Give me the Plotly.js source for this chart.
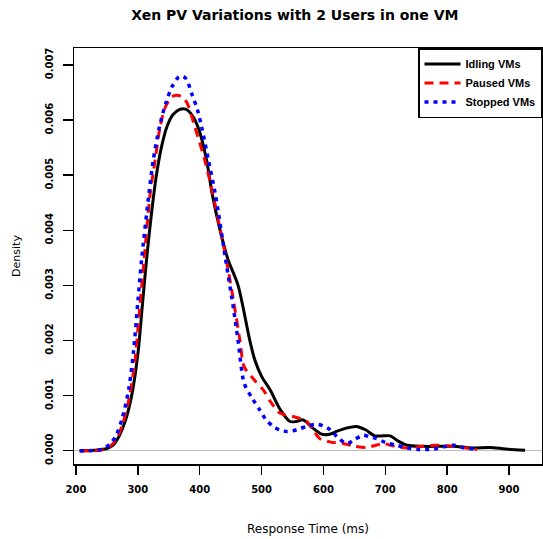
<!DOCTYPE html>
<html>
<head>
<meta charset="utf-8">
<script src="https://cdn.plot.ly/plotly-3.0.1.min.js"></script>
<style>html,body{margin:0;padding:0;background:#fff;}#chart{width:543px;height:539px;}</style>
</head>
<body>
<div id="chart"></div>
<script>
// Response time (ms) and density (x 1e-3)
const idlingX = [206, 230, 250, 260, 270, 280, 290, 300, 307, 314, 322, 330, 338, 347, 357, 367, 377, 387, 398, 411, 420, 433, 446, 462, 481, 489, 500, 514, 530, 546, 556, 567, 582, 597, 610, 621, 637, 653, 668, 683, 697, 708, 720, 735, 760, 790, 810, 840, 869, 895, 926];
const idlingY = [0.00, 0.01, 0.04, 0.10, 0.27, 0.55, 1.00, 1.75, 2.60, 3.46, 4.30, 5.00, 5.50, 5.88, 6.10, 6.19, 6.20, 6.10, 5.85, 5.28, 4.67, 4.00, 3.46, 3.00, 2.00, 1.65, 1.35, 1.10, 0.75, 0.53, 0.53, 0.56, 0.42, 0.30, 0.30, 0.35, 0.41, 0.44, 0.38, 0.27, 0.27, 0.27, 0.18, 0.10, 0.08, 0.08, 0.08, 0.05, 0.06, 0.03, 0.01];

const pausedX = [206, 240, 255, 265, 275, 285, 295, 302, 310, 320, 328, 336, 345, 355, 362, 372, 380, 392, 408, 421, 443, 455, 465, 472, 487, 503, 515, 530, 551, 573, 585, 594, 610, 632, 650, 670, 685, 697, 715, 734, 760, 783, 810, 831, 848];
const pausedY = [0.00, 0.01, 0.08, 0.20, 0.47, 0.90, 1.60, 2.45, 3.46, 4.67, 5.28, 5.88, 6.25, 6.42, 6.45, 6.42, 6.30, 5.88, 5.28, 4.67, 3.46, 2.70, 2.00, 1.52, 1.30, 1.10, 0.88, 0.68, 0.62, 0.53, 0.35, 0.22, 0.16, 0.13, 0.08, 0.06, 0.10, 0.13, 0.08, 0.05, 0.08, 0.10, 0.08, 0.05, 0.02];

const stoppedX = [206, 240, 255, 265, 275, 285, 293, 300, 306, 318, 325, 335, 345, 355, 365, 371, 378, 388, 396, 403, 414, 425, 442, 455, 462, 472, 485, 497, 508, 519, 530, 541, 550, 562, 575, 589, 600, 611, 625, 638, 650, 664, 675, 686, 700, 718, 735, 756, 778, 795, 810, 825, 842, 848];
const stoppedY = [0.00, 0.02, 0.12, 0.28, 0.60, 1.10, 1.80, 2.70, 3.46, 4.67, 5.28, 5.88, 6.30, 6.60, 6.77, 6.80, 6.75, 6.45, 6.20, 5.88, 5.28, 4.67, 3.46, 2.55, 2.00, 1.22, 0.95, 0.74, 0.55, 0.44, 0.37, 0.35, 0.36, 0.40, 0.45, 0.48, 0.45, 0.38, 0.22, 0.13, 0.20, 0.28, 0.25, 0.22, 0.15, 0.10, 0.05, 0.02, 0.03, 0.07, 0.10, 0.06, 0.03, 0.02];

const seriesNames = ['Idling VMs', 'Paused VMs', 'Stopped VMs'];
const xTicks = [200, 300, 400, 500, 600, 700, 800, 900];
const yTicks = [0, 0.001, 0.002, 0.003, 0.004, 0.005, 0.006, 0.007];
const yTickText = ['0.000', '0.001', '0.002', '0.003', '0.004', '0.005', '0.006', '0.007'];

const scale = v => v.map(d => d / 1000);
const FONT = 'DejaVu Sans, Liberation Sans, sans-serif';

const traces = [
  {x: idlingX, y: scale(idlingY), name: seriesNames[0], mode: 'lines',
   line: {color: '#000000', width: 3, shape: 'spline', smoothing: 0.8}},
  {x: pausedX, y: scale(pausedY), name: seriesNames[1], mode: 'lines',
   line: {color: '#ff0000', width: 3, dash: '9px,6px', shape: 'spline', smoothing: 0.8}},
  {x: stoppedX, y: scale(stoppedY), name: seriesNames[2], mode: 'lines',
   line: {color: '#0000ff', width: 3.5, dash: '4px,5px', shape: 'spline', smoothing: 0.8}}
];

const layout = {
  width: 543, height: 539,
  margin: {l: 74, r: 1, t: 48, b: 75, pad: 0},
  paper_bgcolor: '#ffffff', plot_bgcolor: '#ffffff',
  font: {family: FONT, color: '#000000'},
  title: {text: 'Xen PV Variations with 2 Users in one VM', font: {family: FONT, size: 14, weight: 'bold', color: '#000'},
          xref: 'container', x: 0.543, xanchor: 'center', yref: 'container', y: 0.972, yanchor: 'middle'},
  showlegend: true,
  legend: {x: 1, y: 1, xanchor: 'right', yanchor: 'top', bgcolor: '#ffffff', bordercolor: '#000000', borderwidth: 1.5,
           font: {family: 'Liberation Sans, Arial, sans-serif', size: 11, weight: 'bold', color: '#000'},
           tracegroupgap: 0, itemwidth: 36},
  xaxis: {range: [196.8, 953.3], tickmode: 'array', tickvals: xTicks, ticktext: xTicks.map(String),
          showgrid: false, zeroline: false, showline: true, mirror: true, linecolor: '#000', linewidth: 1.5,
          ticks: 'outside', ticklen: 9, tickwidth: 1.5, tickcolor: '#000', ticklabelstandoff: 6,
          tickfont: {family: FONT, size: 10, weight: 'bold'},
          title: {text: 'Response Time (ms)', font: {family: FONT, size: 12}, standoff: 31}},
  yaxis: {range: [-0.000241, 0.007308], tickmode: 'array', tickvals: yTicks, ticktext: yTickText, tickangle: -90,
          showgrid: false, zeroline: true, zerolinecolor: '#bebebe', zerolinewidth: 1,
          showline: true, mirror: true, linecolor: '#000', linewidth: 1.5,
          ticks: 'outside', ticklen: 10, tickwidth: 1.5, tickcolor: '#000', ticklabelstandoff: 6,
          tickfont: {family: FONT, size: 10, weight: 'bold'},
          title: {text: 'Density', font: {family: FONT, size: 11}, standoff: 20}}
};

Plotly.newPlot('chart', traces, layout, {displayModeBar: false, staticPlot: true});
</script>
</body>
</html>
